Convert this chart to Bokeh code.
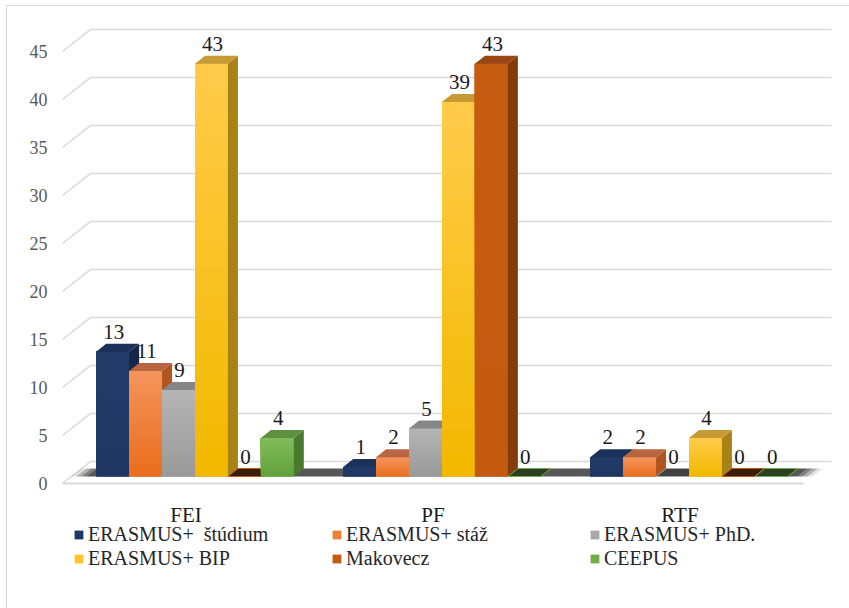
from bokeh.plotting import figure
from bokeh.models import FixedTicker, Legend, LegendItem, ColumnDataSource
from bokeh.embed import file_html
from bokeh.resources import INLINE
from bokeh.core.properties import value

# ---------------- data ----------------
categories = ["FEI", "PF", "RTF"]
series_names = ["ERASMUS+  štúdium", "ERASMUS+ stáž", "ERASMUS+ PhD.",
                "ERASMUS+ BIP", "Makovecz", "CEEPUS"]
studium = [13, 1, 2]
staz = [11, 2, 2]
phd = [9, 5, 0]
bip = [43, 39, 4]
makovecz = [0, 43, 0]
ceepus = [4, 0, 0]
y_ticks = [0, 5, 10, 15, 20, 25, 30, 35, 40, 45]

series_values = [studium, staz, phd, bip, makovecz, ceepus]

# ---------------- styles ----------------
front_colors = ["#203864", "#F07F33", "#A8A8A8", "#FFC52A", "#C55A11", "#70AD47"]
grad_top = ["#223B69", "#F4935A", "#B4B4B4", "#FFCB48", "#C65B12", "#80BC5A"]
grad_bottom = ["#1F3762", "#EA6F1E", "#9A9A9A", "#F2B900", "#C45910", "#62A23B"]
side_colors = ["#14264A", "#AE5520", "#707070", "#A88214", "#843B0C", "#4A7A2C"]
top_colors = ["#1B3159", "#B8663F", "#868686", "#C69B36", "#9A4614", "#5F8F41"]
zero_colors = ["#101E38", "#4A2410", "#404040", "#4A3A08", "#3A1C08", "#2B3F22"]

FRAME_LEFT = 55          # canvas px left of the frame (y-axis area)
FRAME_W = 787
FRAME_H = 566
ZERO_PX = 477            # canvas px (from top) of value 0 on the front plane
BOTTOM_BORDER = 36
PX_X = 247.0             # px per category unit
PX_Y = 9.6               # px per value unit
N_GRAD = 16


def dx(px):
    return px / PX_X


def dy(px):
    return px / PX_Y


def hex2rgb(h):
    h = h.lstrip("#")
    return [int(h[i:i + 2], 16) for i in (0, 2, 4)]


def lerp_color(c0, c1, f):
    a, b = hex2rgb(c0), hex2rgb(c1)
    return "#%02X%02X%02X" % tuple(int(round(a[i] + (b[i] - a[i]) * f)) for i in range(3))


x_end = FRAME_W / PX_X
y_end = ZERO_PX / PX_Y
y_start = -(FRAME_H - ZERO_PX) / PX_Y

p = figure(frame_width=FRAME_W, frame_height=FRAME_H,
           x_range=(0, x_end), y_range=(y_start, y_end),
           output_backend="svg", toolbar_location=None,
           min_border_left=FRAME_LEFT, min_border_right=0, min_border_top=0,
           min_border_bottom=BOTTOM_BORDER)
p.styles = {"margin-left": "6px", "margin-top": "5px",
            "border-left": "1px solid #D9D9D9", "border-top": "1px solid #D9D9D9"}
p.outline_line_color = None
p.background_fill_color = "white"
p.border_fill_color = "white"
p.grid.visible = False

# ---------------- 3D grid ----------------
BACK_DX, BACK_DY = dx(28), dy(22)
ncat = len(categories)
gx, gy = [], []
for t in y_ticks:
    gx.append([0, BACK_DX, ncat + BACK_DX])
    gy.append([t, t + BACK_DY, t + BACK_DY])
p.multi_line(gx, gy, line_color="#D9D9D9", line_width=1.5)
p.line([0, ncat], [0, 0], line_color="#D9D9D9", line_width=2)

# ---------------- floor shadow band ----------------
B0X, B0Y = dx(9), dy(7)      # bar front offset from front plane
BDX, BDY = dx(10), dy(8)     # bar depth
fade = [(0.00, 0.02, 0.15), (0.02, 0.04, 0.4), (0.04, 0.06, 0.65)]
segs = []
for a, b, al in fade:
    segs.append((a, b, al))
    segs.append((ncat - b, ncat - a, al))
segs.append((0.06, ncat - 0.06, 0.85))
sx, sy, sa = [], [], []
for a, b, al in segs:
    sx.append([a + B0X, b + B0X, b + B0X + BDX, a + B0X + BDX])
    sy.append([B0Y, B0Y, B0Y + BDY, B0Y + BDY])
    sa.append(al)
p.patches(xs="xs", ys="ys", source=ColumnDataSource(dict(xs=sx, ys=sy, a=sa)),
          fill_color="#3A3A3A", fill_alpha="a", line_color=None)

# ---------------- bars ----------------
group_w = 0.8
bw = group_w / len(series_names)
renderers = []
label_x, label_y, label_t = [], [], []
for si, vals in enumerate(series_values):
    lefts = [c + (1 - group_w) / 2 + si * bw + B0X for c in range(ncat)]
    rights = [l + bw for l in lefts]
    tops = [v + B0Y for v in vals]
    src = ColumnDataSource(dict(left=lefts, right=rights, bottom=[B0Y] * ncat, top=tops))
    r = p.quad(left="left", right="right", bottom="bottom", top="top", source=src,
               fill_color=front_colors[si], line_color=None)
    renderers.append(r)
    # vertical colour gradient of the front faces (overlapping strips)
    gl, gr, gb, gt, gc = [], [], [], [], []
    for l, rr, t, v in zip(lefts, rights, tops, vals):
        if v == 0:
            continue
        for k in range(N_GRAD):
            f = k / (N_GRAD - 1)
            gl.append(l)
            gr.append(rr)
            gb.append(B0Y + v * k / N_GRAD)
            gt.append(t)
            gc.append(lerp_color(grad_bottom[si], grad_top[si], f))
    p.quad(left="l", right="r", bottom="b", top="t", fill_color="c", line_color=None,
           source=ColumnDataSource(dict(l=gl, r=gr, b=gb, t=gt, c=gc)))
    side_x = [[rr, rr + BDX, rr + BDX, rr] for rr in rights]
    side_y = [[B0Y, B0Y + BDY, t + BDY, t] for t in tops]
    p.patches(side_x, side_y, fill_color=side_colors[si], line_color=None)
    top_x = [[l, rr, rr + BDX, l + BDX] for l, rr in zip(lefts, rights)]
    top_y = [[t, t, t + BDY, t + BDY] for t in tops]
    tfill = [zero_colors[si] if v == 0 else top_colors[si] for v in vals]
    tline = [front_colors[si] if v == 0 else None for v in vals]
    p.patches(xs="xs", ys="ys", source=ColumnDataSource(dict(xs=top_x, ys=top_y, f=tfill, lc=tline)),
              fill_color="f", line_color="lc", line_width=1)
    for l, rr, t, v in zip(lefts, rights, tops, vals):
        label_x.append((l + rr) / 2 + dx(1))
        label_y.append(t + BDY + dy(12))
        label_t.append(str(v))

p.text(x=label_x, y=label_y, text=label_t, text_font=value("Liberation Serif"),
       text_font_size="21px", text_color="#1A1A1A", text_align="center",
       text_baseline="alphabetic")

# ---------------- axes ----------------
p.yaxis.ticker = FixedTicker(ticks=y_ticks)
p.yaxis.major_tick_out = 0
p.yaxis.major_tick_in = 0
p.yaxis.minor_tick_line_color = None
p.yaxis.axis_line_color = None
p.yaxis.major_label_standoff = 15
p.yaxis.major_label_text_font = "Liberation Serif"
p.yaxis.major_label_text_font_size = "18px"
p.yaxis.major_label_text_color = "#595959"

p.xaxis.fixed_location = 0
p.xaxis.ticker = FixedTicker(ticks=[i + 0.5 for i in range(ncat)])
p.xaxis.major_label_overrides = {i + 0.5: c for i, c in enumerate(categories)}
p.xaxis.major_tick_out = 0
p.xaxis.major_tick_in = 0
p.xaxis.minor_tick_line_color = None
p.xaxis.axis_line_color = None
p.xaxis.major_label_standoff = 19
p.xaxis.major_label_text_font = "Liberation Serif"
p.xaxis.major_label_text_font_size = "21px"
p.xaxis.major_label_text_color = "#1A1A1A"

# ---------------- legend ----------------
LEG_H = 47
legend = Legend(items=[LegendItem(label=n, renderers=[r]) for n, r in zip(series_names, renderers)],
                orientation="horizontal", ncols=3,
                location=(11, FRAME_H - 516.5 - LEG_H),
                margin=0, padding=0, spacing=1,
                glyph_width=11, glyph_height=11, label_standoff=4, label_width=242,
                label_height=23,
                label_text_font="Liberation Serif", label_text_font_size="20px",
                label_text_color="#262626",
                border_line_color=None, background_fill_color=None,
                background_fill_alpha=0)
p.add_layout(legend)

open("out.html", "w").write(file_html(p, INLINE))
